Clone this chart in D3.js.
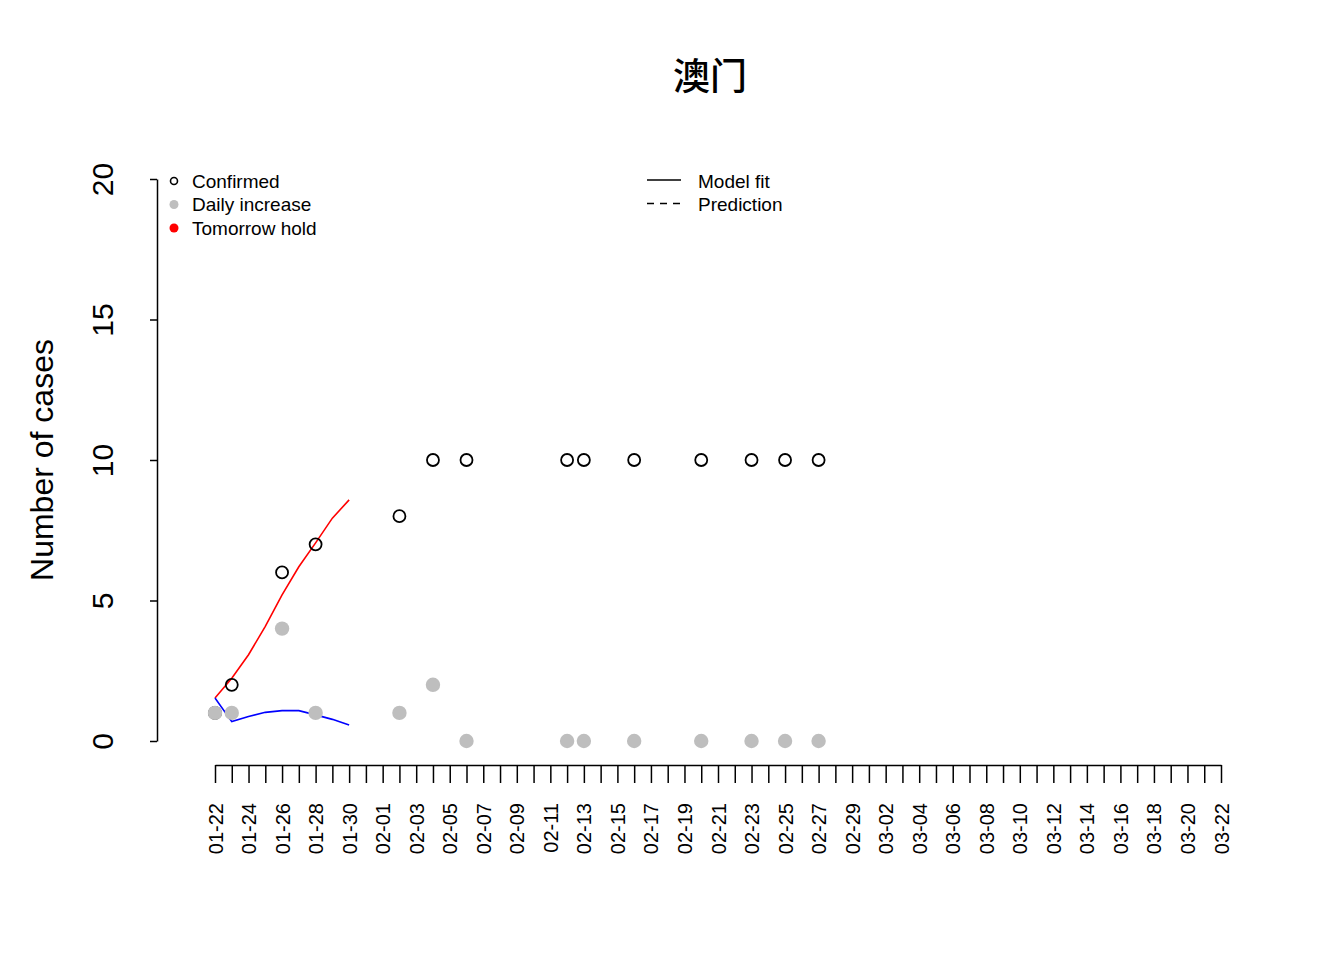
<!DOCTYPE html>
<html>
<head>
<meta charset="utf-8">
<script src="https://cdn.jsdelivr.net/npm/d3@7"></script>
<style>
  html, body { margin: 0; padding: 0; background: #fff; }
  svg { display: block; }
  text { font-family: "Liberation Sans", Arial, sans-serif; fill: #000; }
</style>
</head>
<body>
<svg id="chart" width="1344" height="960"></svg>
<script>
// ---------------- data ----------------
const title = "澳门";
const yLabel = "Number of cases";
const startDate = "01-22";
const endDate = "03-22";
const tickLabels = ["01-22","01-24","01-26","01-28","01-30","02-01","02-03","02-05","02-07","02-09",
  "02-11","02-13","02-15","02-17","02-19","02-21","02-23","02-25","02-27","02-29",
  "03-02","03-04","03-06","03-08","03-10","03-12","03-14","03-16","03-18","03-20","03-22"];
const yTicks = [0, 5, 10, 15, 20];

const obsDates = ["01-22","01-23","01-26","01-28","02-02","02-04","02-06","02-12","02-13","02-16","02-20","02-23","02-25","02-27"];
const confirmed = [1, 2, 6, 7, 8, 10, 10, 10, 10, 10, 10, 10, 10, 10];
const dailyIncrease = [1, 1, 4, 1, 1, 2, 0, 0, 0, 0, 0, 0, 0, 0];

const fitDates = ["01-22","01-23","01-24","01-25","01-26","01-27","01-28","01-29","01-30"];
const fitConfirmed = [1.53, 2.23, 3.07, 4.08, 5.2, 6.2, 7.05, 7.93, 8.58];
const fitDaily = [1.53, 0.69, 0.87, 1.02, 1.08, 1.08, 0.93, 0.77, 0.57];

const legend1 = ["Confirmed", "Daily increase", "Tomorrow hold"];
const legend2 = ["Model fit", "Prediction"];

// ---------------- helpers ----------------
const parse = s => d3.timeParse("%Y-%m-%d")("2020-" + s);
const svg = d3.select("#chart");

const x = d3.scaleTime().domain([parse(startDate), parse(endDate)]).range([215, 1221]);
const y = d3.scaleLinear().domain([0, 20]).range([741, 179]);

// ---------------- title ----------------
svg.append("text")
  .attr("x", 710).attr("y", 90)
  .attr("text-anchor", "middle")
  .style("font-family", "'Noto Sans CJK SC', sans-serif")
  .style("font-size", "37px")
  .style("font-weight", "500")
  .text(title);

// ---------------- y axis ----------------
const yAxisG = svg.append("g")
  .attr("transform", "translate(157,0)")
  .call(d3.axisLeft(y).tickValues(yTicks).tickSize(7).tickSizeOuter(0).tickPadding(0));
yAxisG.select(".domain").attr("stroke", "#000").attr("stroke-width", 1.5);
yAxisG.selectAll(".tick line").attr("stroke", "#000").attr("stroke-width", 1.5);
yAxisG.selectAll(".tick text")
  .attr("x", null).attr("dy", null)
  .attr("transform", "translate(-44,0) rotate(-90)")
  .attr("text-anchor", "middle")
  .style("font-family", "'Liberation Sans', Arial, sans-serif")
  .style("font-size", "30px")
  .attr("fill", "#000");

svg.append("text")
  .attr("transform", "translate(53,460) rotate(-90)")
  .attr("text-anchor", "middle")
  .style("font-size", "32px")
  .text(yLabel);

// ---------------- x axis ----------------
const allDays = d3.timeDay.range(parse(startDate), d3.timeDay.offset(parse(endDate), 1));
const labelSet = new Set(tickLabels);
const fmt = d3.timeFormat("%m-%d");
const xAxisG = svg.append("g")
  .attr("transform", "translate(0,765)")
  .call(d3.axisBottom(x).tickValues(allDays).tickSize(18).tickSizeOuter(0)
    .tickFormat(d => labelSet.has(fmt(d)) ? fmt(d) : ""));
xAxisG.select(".domain").attr("stroke", "#000").attr("stroke-width", 1.5);
xAxisG.selectAll(".tick line").attr("stroke", "#000").attr("stroke-width", 1.5);
xAxisG.selectAll(".tick text")
  .attr("y", null).attr("dy", null)
  .attr("transform", "translate(7,38) rotate(-90)")
  .attr("text-anchor", "end")
  .style("font-family", "'Liberation Sans', Arial, sans-serif")
  .style("font-size", "20px")
  .attr("fill", "#000");

// ---------------- marks ----------------
const line = d3.line().x(d => x(parse(d[0]))).y(d => y(d[1]));

svg.append("path")
  .datum(d3.zip(fitDates, fitConfirmed))
  .attr("d", line)
  .attr("fill", "none").attr("stroke", "#ff0000").attr("stroke-width", 1.6);

svg.append("path")
  .datum(d3.zip(fitDates, fitDaily))
  .attr("d", line)
  .attr("fill", "none").attr("stroke", "#0000ff").attr("stroke-width", 1.6);

svg.append("g").selectAll("circle")
  .data(d3.zip(obsDates, confirmed))
  .join("circle")
  .attr("cx", d => x(parse(d[0]))).attr("cy", d => y(d[1]))
  .attr("r", 6).attr("fill", "none").attr("stroke", "#000").attr("stroke-width", 1.8);

svg.append("g").selectAll("circle")
  .data(d3.zip(obsDates, dailyIncrease))
  .join("circle")
  .attr("cx", d => x(parse(d[0]))).attr("cy", d => y(d[1]))
  .attr("r", 7.2).attr("fill", "#bebebe");

// ---------------- legends ----------------
const lg1 = svg.append("g");
const lgRowY = [181, 204.5, 228];
lg1.append("circle").attr("cx", 174).attr("cy", lgRowY[0]).attr("r", 3.5)
  .attr("fill", "none").attr("stroke", "#000").attr("stroke-width", 1.6);
lg1.append("circle").attr("cx", 174).attr("cy", lgRowY[1]).attr("r", 4.5).attr("fill", "#bebebe");
lg1.append("circle").attr("cx", 174).attr("cy", lgRowY[2]).attr("r", 4.5).attr("fill", "#ff0000");
lg1.selectAll("text").data(legend1).join("text")
  .attr("x", 192).attr("y", (d, i) => lgRowY[i] + 6.8)
  .style("font-size", "19px")
  .text(d => d);

const lg2 = svg.append("g");
const lg2RowY = [180, 203.5];
lg2.append("line").attr("x1", 647).attr("x2", 681).attr("y1", lg2RowY[0]).attr("y2", lg2RowY[0])
  .attr("stroke", "#000").attr("stroke-width", 1.6);
lg2.append("line").attr("x1", 647).attr("x2", 681).attr("y1", lg2RowY[1]).attr("y2", lg2RowY[1])
  .attr("stroke", "#000").attr("stroke-width", 1.6).attr("stroke-dasharray", "7,6");
lg2.selectAll("text").data(legend2).join("text")
  .attr("x", 698).attr("y", (d, i) => lg2RowY[i] + 7.5)
  .style("font-size", "19px")
  .text(d => d);
</script>
</body>
</html>
